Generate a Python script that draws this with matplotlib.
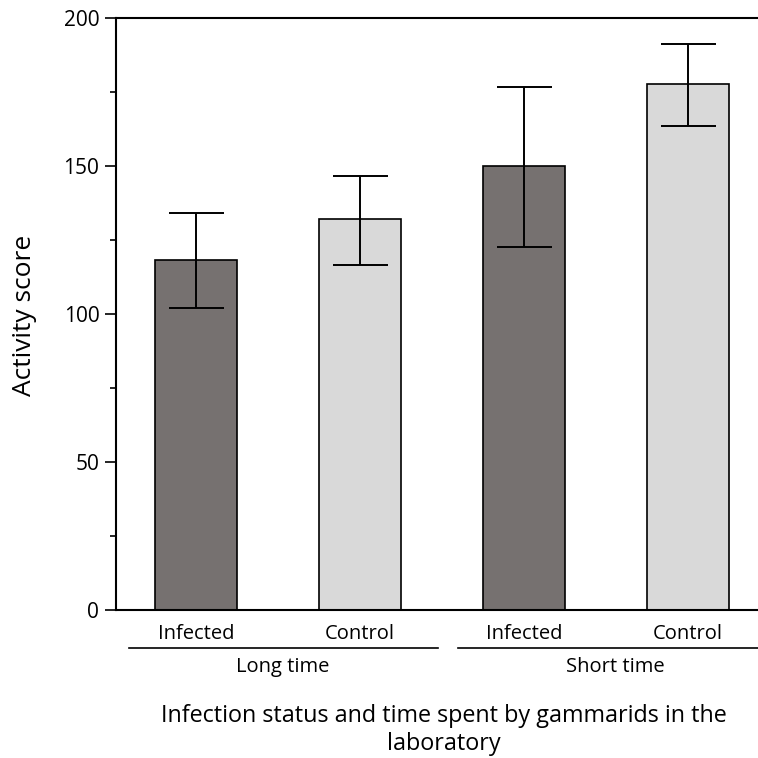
import matplotlib.pyplot as plt
import matplotlib.transforms as mtransforms
from matplotlib.ticker import MultipleLocator

# Puntuación de actividad por grupo (media y error)
grupos = ["Infected", "Control", "Infected", "Control"]
medias = [118.2, 132.1, 150.0, 177.7]
err_sup = [134.1, 146.6, 176.7, 191.2]
err_inf = [102.0, 116.6, 122.6, 163.5]
tiempos = ["Long time", "Short time"]
colores = ["#767170", "#d9d9d9", "#767170", "#d9d9d9"]

plt.rcParams["font.family"] = ["Open Sans", "DejaVu Sans"]

fig = plt.figure(figsize=(7.58, 7.58), dpi=100)
ax = fig.add_axes([116 / 758, 148 / 758, 652 / 758, 592 / 758])

x = list(range(len(medias)))
yerr = [[m - lo for m, lo in zip(medias, err_inf)],
        [hi - m for m, hi in zip(medias, err_sup)]]
ax.bar(x, medias, width=0.5, color=colores, edgecolor="black", linewidth=1.2, zorder=2)
ax.errorbar(x, medias, yerr=yerr, fmt="none", ecolor="black", elinewidth=1.4,
            capsize=19.8, capthick=1.4, zorder=3)

ax.set_xlim(-0.49, 3.49)
ax.set_ylim(0, 200)
ax.yaxis.set_major_locator(MultipleLocator(50))
ax.yaxis.set_minor_locator(MultipleLocator(25))
ax.tick_params(axis="y", which="major", length=8, width=1.2, labelsize=15, pad=4)
ax.tick_params(axis="y", which="minor", length=4, width=1.2)
ax.set_xticks([])
for lado in ["left", "top", "bottom"]:
    ax.spines[lado].set_linewidth(1.5)
ax.spines["right"].set_visible(False)

# etiquetas de grupo debajo del eje
trans = mtransforms.blended_transform_factory(ax.transData, ax.transAxes)
for xi, g in zip(x, grupos):
    ax.text(xi, -0.041, g, transform=trans, ha="center", va="center", fontsize=14.5)
ax.plot([-0.41, 1.475], [-0.064, -0.064], transform=trans, color="black", lw=1.2, clip_on=False)
ax.plot([1.6, 3.49], [-0.064, -0.064], transform=trans, color="black", lw=1.2, clip_on=False)
ax.text(0.53, -0.097, tiempos[0], transform=trans, ha="center", va="center", fontsize=14.5)
ax.text(2.555, -0.097, tiempos[1], transform=trans, ha="center", va="center", fontsize=14.5)

fig.text(25 / 758, 1 - 315 / 758, "Activity score", rotation=90,
         ha="center", va="center", fontsize=19)
fig.text(444 / 758, 1 - 730 / 758,
         "Infection status and time spent by gammarids in the\nlaboratory",
         ha="center", va="center", fontsize=16.8, linespacing=1.25)

fig.savefig("out.png", dpi=100)
